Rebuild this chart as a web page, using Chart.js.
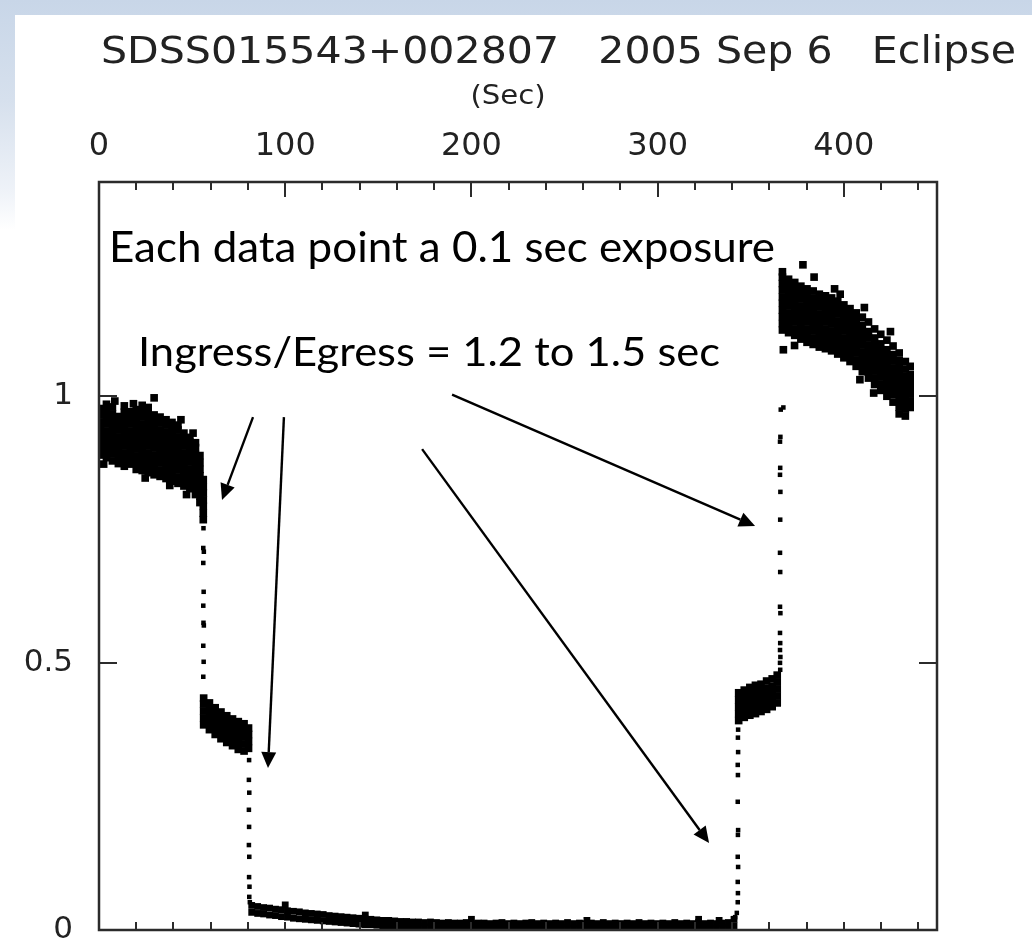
<!DOCTYPE html>
<html><head><meta charset="utf-8">
<script src="https://cdn.jsdelivr.net/npm/chart.js@4.4.1/dist/chart.umd.min.js"></script>
<style>
html,body{margin:0;padding:0;width:1032px;height:941px;overflow:hidden;
background:linear-gradient(180deg,#c8d6e8 0px,#d6e0ed 100px,#eef2f8 190px,#ffffff 230px);}
#sheet{position:absolute;left:15px;top:15px;width:1017px;height:926px;background:#fff;}
canvas{position:absolute;left:0;top:0;}
</style></head><body>
<div id="sheet"></div>
<canvas id="c" width="1032" height="941"></canvas>
<script>
// ---------- text ----------
const chartTitle = 'SDSS015543+002807   2005 Sep 6   Eclipse';
const axisUnit = '(Sec)';
const noteLines = ['Each data point a 0.1 sec exposure', 'Ingress/Egress = 1.2 to 1.5 sec'];

// ---------- axes ----------
const xRange = [0, 450];
const yRange = [0, 1.4];
const xTickValues = [0, 100, 200, 300, 400];
const xMinorTicks = [20, 40, 60, 80, 120, 140, 160, 180, 220, 240, 260, 280, 320, 340, 360, 380, 420, 440];
const yTickValues = [0, 0.5, 1];

// ---------- data (time in s, relative flux) ----------
// dense out-of-eclipse columns: [time, [flux values]]
const preEclipse = [
  [0.8, [0.889,0.901,0.914,0.926,0.939,0.951,0.964,0.976]],
  [4.0, [0.884,0.897,0.909,0.922,0.934,0.947,0.959,0.972,0.984]],
  [7.2, [0.878,0.891,0.903,0.916,0.928,0.941,0.953,0.966,0.979]],
  [10.4, [0.873,0.886,0.898,0.911,0.923,0.936,0.948,0.961]],
  [13.6, [0.868,0.881,0.893,0.906,0.918,0.931,0.943,0.956,0.969,0.981]],
  [16.8, [0.872,0.884,0.897,0.909,0.922,0.934,0.947,0.959,0.970]],
  [20.0, [0.862,0.875,0.887,0.900,0.912,0.925,0.937,0.950,0.962,0.974]],
  [23.2, [0.860,0.872,0.885,0.897,0.910,0.922,0.935,0.947,0.960,0.972,0.982]],
  [26.4, [0.856,0.868,0.881,0.893,0.906,0.918,0.931,0.943,0.956,0.968,0.978]],
  [29.6, [0.852,0.864,0.877,0.889,0.902,0.914,0.927,0.939,0.952,0.964,0.996]],
  [32.8, [0.849,0.861,0.874,0.886,0.899,0.911,0.924,0.936,0.949,0.960]],
  [36.0, [0.845,0.857,0.870,0.882,0.895,0.907,0.920,0.932,0.945,0.955]],
  [39.2, [0.840,0.853,0.865,0.878,0.890,0.903,0.915,0.928,0.940,0.950]],
  [42.4, [0.836,0.848,0.861,0.873,0.886,0.898,0.911,0.923,0.936,0.945]],
  [45.6, [0.831,0.843,0.856,0.868,0.881,0.893,0.906,0.918,0.930]],
  [48.8, [0.826,0.838,0.851,0.863,0.876,0.888,0.901,0.913,0.922]],
  [51.8, [0.815,0.828,0.840,0.853,0.865,0.878,0.890,0.903,0.912]],
  [54.2, [0.800,0.812,0.825,0.837,0.850,0.862,0.875,0.888]],
  [56.0, [0.768,0.780,0.793,0.805,0.818,0.830,0.843]]
];
const plateauIngress = [
  [56.2, [0.384,0.397,0.410,0.423,0.434]],
  [59.3, [0.375,0.388,0.401,0.414,0.425]],
  [62.4, [0.366,0.379,0.392,0.405,0.416]],
  [65.5, [0.358,0.371,0.384,0.397,0.408]],
  [68.6, [0.351,0.364,0.377,0.390,0.401]],
  [71.7, [0.345,0.358,0.371,0.384,0.395]],
  [74.8, [0.338,0.351,0.364,0.377,0.390]],
  [77.9, [0.335,0.348,0.361,0.374,0.386]],
  [80.3, [0.340,0.353,0.366,0.378]]
];
const plateauEgress = [
  [343.5, [0.392,0.405,0.418,0.431,0.444]],
  [346.5, [0.398,0.411,0.424,0.437,0.449]],
  [349.5, [0.402,0.415,0.428,0.441,0.454]],
  [352.5, [0.405,0.418,0.431,0.444,0.458]],
  [355.5, [0.409,0.422,0.435,0.448,0.460]],
  [358.5, [0.413,0.426,0.439,0.452,0.466]],
  [361.5, [0.418,0.430,0.443,0.456,0.470]],
  [364.2, [0.425,0.438,0.451,0.464,0.477]]
];
const postEclipse = [
  [367.0, [1.123,1.135,1.148,1.160,1.173,1.185,1.198,1.210,1.222,1.232]],
  [370.3, [1.118,1.130,1.143,1.155,1.168,1.180,1.193,1.205,1.218]],
  [373.6, [1.113,1.125,1.138,1.150,1.163,1.175,1.188,1.200,1.212]],
  [376.9, [1.106,1.118,1.131,1.143,1.156,1.168,1.181,1.193,1.205]],
  [380.2, [1.100,1.113,1.125,1.138,1.150,1.163,1.175,1.188,1.200]],
  [383.5, [1.096,1.108,1.121,1.133,1.146,1.158,1.171,1.183,1.196]],
  [386.8, [1.091,1.103,1.116,1.128,1.141,1.153,1.166,1.178,1.190]],
  [390.1, [1.088,1.100,1.113,1.125,1.138,1.150,1.163,1.175,1.187]],
  [393.4, [1.084,1.096,1.109,1.121,1.134,1.146,1.159,1.171,1.183]],
  [396.7, [1.078,1.090,1.103,1.115,1.128,1.140,1.153,1.165,1.177]],
  [400.0, [1.071,1.083,1.096,1.108,1.121,1.133,1.146,1.158,1.170]],
  [403.3, [1.064,1.076,1.089,1.101,1.114,1.126,1.139,1.151,1.163]],
  [406.6, [1.055,1.067,1.080,1.092,1.105,1.117,1.130,1.142,1.155]],
  [409.9, [1.045,1.057,1.070,1.082,1.095,1.107,1.120,1.132,1.147]],
  [413.2, [1.033,1.045,1.058,1.070,1.083,1.095,1.108,1.120,1.138]],
  [416.5, [1.021,1.033,1.046,1.058,1.071,1.083,1.096,1.108,1.125]],
  [419.8, [1.010,1.022,1.035,1.047,1.060,1.072,1.085,1.097,1.115]],
  [423.1, [0.999,1.011,1.024,1.036,1.049,1.061,1.074,1.086,1.104]],
  [426.4, [0.988,1.002,1.015,1.027,1.040,1.052,1.065,1.077,1.093]],
  [429.7, [0.966,0.979,0.991,1.004,1.016,1.029,1.041,1.054,1.066,1.080]],
  [433.0, [0.962,0.975,0.987,1.000,1.012,1.025,1.037,1.050,1.064]],
  [435.6, [0.978,0.990,1.003,1.015,1.028,1.040,1.055]]
];
// scattered single exposures around the dense groups: [time, flux]
const strayPoints = [
  [2.5,0.872],[8.5,0.990],[18.5,0.985],[24.8,0.846],[38.0,0.832],[44.0,0.955],[50.5,0.930],[47.0,0.815],
  [378.0,1.245],[384.0,1.222],[395.0,1.200],[398.0,1.190],[411.0,1.165],[425.0,1.120],
  [367.5,1.086],[373.5,1.094],[408.6,1.030],[416.0,1.005]
];
// totality: [time, lower flux, upper flux]
const totality = [
  [82.0,0.033,0.046],[85.2,0.031,0.044],[88.4,0.030,0.042],[91.6,0.028,0.041],[94.8,0.027,0.039],
  [98.0,0.025,0.038],[101.2,0.024,0.036],[104.4,0.022,0.035],[107.6,0.021,0.034],[110.8,0.020,0.032],
  [114.0,0.019,0.031],[117.2,0.018,0.030],[120.4,0.017,0.029],[123.6,0.016,0.027],[126.8,0.015,0.026],
  [130.0,0.014,0.025],[133.2,0.013,0.024],[136.4,0.012,0.023],[139.6,0.011,0.022],[142.8,0.010,0.021],
  [146.0,0.010,0.020],[149.2,0.009,0.019],[152.4,0.008,0.018],[155.6,0.008,0.018],[158.8,0.007,0.017],
  [162.0,0.007,0.016],[165.2,0.006,0.016],[168.4,0.006,0.015],[171.6,0.006,0.015],[174.8,0.005,0.014],
  [178.0,0.005,0.015],[181.2,0.005,0.014],[184.4,0.005,0.013],[187.6,0.004,0.014],[190.8,0.004,0.013],
  [194.0,0.004,0.013],[197.2,0.004,0.014],[200.4,0.004,0.012],[203.6,0.004,0.013],[206.8,0.003,0.013],
  [210.0,0.003,0.012],[213.2,0.004,0.013],[216.4,0.003,0.014],[219.6,0.003,0.012],[222.8,0.003,0.013],
  [226.0,0.004,0.012],[229.2,0.003,0.013],[232.4,0.003,0.014],[235.6,0.003,0.012],[238.8,0.004,0.013],
  [242.0,0.003,0.012],[245.2,0.003,0.013],[248.4,0.003,0.012],[251.6,0.004,0.014],[254.8,0.003,0.012],
  [258.0,0.003,0.013],[261.2,0.003,0.012],[264.4,0.004,0.013],[267.6,0.003,0.012],[270.8,0.003,0.014],
  [274.0,0.003,0.012],[277.2,0.004,0.013],[280.4,0.003,0.012],[283.6,0.003,0.013],[286.8,0.003,0.012],
  [290.0,0.004,0.014],[293.2,0.003,0.012],[296.4,0.003,0.013],[299.6,0.003,0.012],[302.8,0.004,0.013],
  [306.0,0.003,0.012],[309.2,0.003,0.014],[312.4,0.003,0.012],[315.6,0.004,0.013],[318.8,0.003,0.012],
  [322.0,0.003,0.014],[325.2,0.004,0.012],[328.4,0.003,0.013],[331.6,0.003,0.012],[334.8,0.004,0.013],
  [338.0,0.004,0.014],[341.0,0.008,0.020]
];
const totalityBumps = [[100.0,0.047],[143.0,0.028],[200.0,0.020],[262.0,0.018],[322.0,0.020],[333.0,0.018]];
// fast transitions: [time, flux]
const ingressWD = [[56.1,0.752],[56.0,0.715],[56.3,0.708],[56.0,0.687],[56.2,0.633],[56.0,0.607],[56.1,0.575],[56.3,0.570],[56.0,0.532],[56.2,0.502],[56.0,0.474]];
const ingressSpot = [[80.6,0.318],[80.5,0.281],[80.7,0.257],[80.5,0.225],[80.6,0.193],[80.5,0.159],[80.7,0.137],[80.6,0.099],[80.8,0.081],[80.7,0.062],[81.0,0.052]];
const egressWD = [[341.6,0.024],[342.5,0.032],[343.0,0.052],[343.1,0.069],[343.0,0.090],[343.2,0.118],[343.0,0.137],[343.1,0.178],[343.2,0.187],[343.0,0.240],[343.1,0.290],[343.0,0.309],[343.2,0.333],[343.1,0.360],[343.2,0.375]];
const egressSpot = [[365.8,0.487],[365.7,0.500],[365.9,0.511],[365.7,0.524],[365.8,0.537],[365.7,0.556],[365.9,0.593],[365.7,0.605],[365.8,0.670],[365.7,0.706],[365.8,0.768],[365.9,0.820],[365.7,0.852],[365.8,0.865],[365.7,0.914],[365.9,0.923],[366.1,0.974],[367.5,0.978]];

// annotation arrows in data units: [fromX, fromY, toX, toY]
const arrows = [
  [82.7, 0.960, 66.05, 0.805],
  [99.3, 0.960, 90.75, 0.303],
  [189.6, 1.002, 352.3, 0.756],
  [173.5, 0.900, 327.6, 0.163]
];

// ---------- helpers ----------
const fromColumns = cols => cols.flatMap(([x, ys]) => ys.map(y => ({x, y})));
const fromPairs = arr => arr.map(([x, y]) => ({x, y}));
const fromBand = arr => arr.flatMap(([x, lo, hi]) => [{x, y: lo}, {x, y: hi}]);

const denseData = [...fromColumns(preEclipse), ...fromColumns(plateauIngress), ...fromColumns(plateauEgress), ...fromColumns(postEclipse), ...fromPairs(strayPoints)];
const bandData = [...fromBand(totality), ...fromPairs(totalityBumps)];
const sparseData = [...fromPairs(ingressWD), ...fromPairs(ingressSpot), ...fromPairs(egressWD), ...fromPairs(egressSpot)];

function fitText(ctx, text, x, baseline, width, font) {
  ctx.font = font;
  const w = ctx.measureText(text).width;
  ctx.save();
  ctx.translate(x, baseline);
  ctx.scale(width / w, 1);
  ctx.textAlign = 'left';
  ctx.textBaseline = 'alphabetic';
  ctx.fillText(text, 0, 0);
  ctx.restore();
}

const decor = {
  id: 'decor',
  afterDraw(chart) {
    const {ctx, chartArea: a, scales: {x, y}} = chart;
    ctx.save();
    // frame
    ctx.strokeStyle = '#2b2b2b';
    ctx.lineWidth = 2.5;
    ctx.strokeRect(a.left, a.top, a.right - a.left, a.bottom - a.top);
    // ticks (inward)
    ctx.lineWidth = 2;
    ctx.beginPath();
    xTickValues.forEach(v => {
      const px = Math.round(x.getPixelForValue(v));
      if (px <= a.left + 1) return;
      ctx.moveTo(px, a.top); ctx.lineTo(px, a.top + 15);
      ctx.moveTo(px, a.bottom); ctx.lineTo(px, a.bottom - 8);
    });
    xMinorTicks.forEach(v => {
      const px = Math.round(x.getPixelForValue(v));
      ctx.moveTo(px, a.top); ctx.lineTo(px, a.top + 8);
      ctx.moveTo(px, a.bottom); ctx.lineTo(px, a.bottom - 8);
    });
    yTickValues.forEach(v => {
      const py = Math.round(y.getPixelForValue(v));
      if (py >= a.bottom - 1) return;
      ctx.moveTo(a.left, py); ctx.lineTo(a.left + 18, py);
      ctx.moveTo(a.right, py); ctx.lineTo(a.right - 18, py);
    });
    ctx.stroke();

    // title and unit
    ctx.fillStyle = '#222';
    fitText(ctx, chartTitle, 101, 63, 915, '37px "DejaVu Sans"');
    ctx.font = '26px "DejaVu Sans"';
    const uw = ctx.measureText(axisUnit).width * 1.12;
    fitText(ctx, axisUnit, (a.left + a.right) / 2 - uw / 2 - 10, 104, uw, '26px "DejaVu Sans"');

    // notes
    ctx.fillStyle = '#000';
    fitText(ctx, noteLines[0], 109, 262, 666, '42px Lato');
    fitText(ctx, noteLines[1], 138, 366, 582, '40px Lato');

    // arrows
    ctx.strokeStyle = '#000';
    ctx.fillStyle = '#000';
    ctx.lineWidth = 2.4;
    arrows.forEach(([x0, y0, x1, y1]) => {
      const sx = x.getPixelForValue(x0), sy = y.getPixelForValue(y0);
      const tx = x.getPixelForValue(x1), ty = y.getPixelForValue(y1);
      const ang = Math.atan2(ty - sy, tx - sx);
      const L = 16, H = 7.5;
      const bx = tx - L * Math.cos(ang), by = ty - L * Math.sin(ang);
      ctx.beginPath(); ctx.moveTo(sx, sy); ctx.lineTo(bx, by); ctx.stroke();
      ctx.beginPath();
      ctx.moveTo(tx, ty);
      ctx.lineTo(bx + H * Math.sin(ang), by - H * Math.cos(ang));
      ctx.lineTo(bx - H * Math.sin(ang), by + H * Math.cos(ang));
      ctx.closePath(); ctx.fill();
    });
    ctx.restore();
  }
};

const pointStyle = r => ({pointStyle: 'rect', pointRadius: r, pointHoverRadius: r, backgroundColor: '#000', borderWidth: 0, showLine: false});

new Chart(document.getElementById('c'), {
  type: 'scatter',
  data: {
    datasets: [
      {data: denseData, ...pointStyle(5.4)},
      {data: bandData, ...pointStyle(4.8)},
      {data: sparseData, ...pointStyle(3.2)}
    ]
  },
  options: {
    responsive: false,
    animation: false,
    events: [],
    layout: {padding: {top: 60, right: 95, bottom: 11, left: 0}},
    plugins: {legend: {display: false}, tooltip: {enabled: false}, title: {display: false}},
    scales: {
      x: {
        type: 'linear', position: 'top', min: xRange[0], max: xRange[1],
        grid: {display: false, drawTicks: false}, border: {display: false},
        ticks: {font: {family: 'DejaVu Sans', size: 32}, color: '#222', padding: 16, maxRotation: 0, autoSkip: false,
          callback: v => String(v)},
        afterBuildTicks: s => { s.ticks = xTickValues.map(v => ({value: v})); },
        afterFit: s => { s.height = 122; s.paddingLeft = 0; s.paddingRight = 0; }
      },
      y: {
        type: 'linear', position: 'left', min: yRange[0], max: yRange[1],
        grid: {display: false, drawTicks: false}, border: {display: false},
        ticks: {font: {family: 'DejaVu Sans', size: 31}, color: '#222', padding: 26, autoSkip: false,
          callback: v => String(v)},
        afterBuildTicks: s => { s.ticks = yTickValues.map(v => ({value: v})); },
        afterFit: s => { s.width = 99; s.paddingTop = 0; s.paddingBottom = 0; }
      }
    }
  },
  plugins: [decor]
});
</script>
</body></html>
